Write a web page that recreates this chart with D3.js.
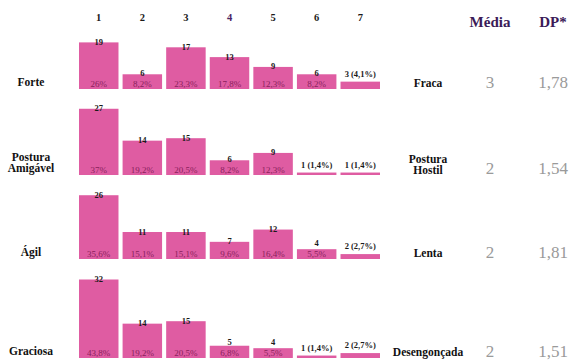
<!DOCTYPE html>
<html>
<head>
<meta charset="utf-8">
<script src="https://cdn.jsdelivr.net/npm/d3@7"></script>
<style>
  html, body { margin: 0; padding: 0; background: #fff; }
</style>
</head>
<body>
<svg id="chart" width="578" height="363"></svg>
<script>
// Semantic differential: 7-point scale, counts of answers per item (n = 73)
const scalePoints = ["1", "2", "3", "4", "5", "6", "7"];
const leftPoles = [["Forte"], ["Postura", "Amigável"], ["Ágil"], ["Graciosa"]];
const rightPoles = [["Fraca"], ["Postura", "Hostil"], ["Lenta"], ["Desengonçada"]];

const countsForte = [19, 6, 17, 13, 9, 6, 3];
const countsPostura = [27, 14, 15, 6, 9, 1, 1];
const countsAgil = [26, 11, 11, 7, 12, 4, 2];
const countsGraciosa = [32, 14, 15, 5, 4, 1, 2];

const pctForte = ["26%", "8,2%", "23,3%", "17,8%", "12,3%", "8,2%", "4,1%"];
const pctPostura = ["37%", "19,2%", "20,5%", "8,2%", "12,3%", "1,4%", "1,4%"];
const pctAgil = ["35,6%", "15,1%", "15,1%", "9,6%", "16,4%", "5,5%", "2,7%"];
const pctGraciosa = ["43,8%", "19,2%", "20,5%", "6,8%", "5,5%", "1,4%", "2,7%"];

const medias = ["3", "2", "2", "2"];
const desvios = ["1,78", "1,54", "1,81", "1,51"];

const rows = [
  { counts: countsForte, pcts: pctForte },
  { counts: countsPostura, pcts: pctPostura },
  { counts: countsAgil, pcts: pctAgil },
  { counts: countsGraciosa, pcts: pctGraciosa }
];

// Pick the first serif face that is actually installed
function pickFont(cands) {
  const ctx = document.createElement("canvas").getContext("2d");
  const probe = "Desengonçada Média 1,78 WwMmIil";
  ctx.font = "20px monospace";
  const base = ctx.measureText(probe).width;
  for (const c of cands) {
    ctx.font = `20px "${c}", monospace`;
    if (Math.abs(ctx.measureText(probe).width - base) > 0.5) return `"${c}"`;
  }
  return "serif";
}
const serif = pickFont(["Liberation Serif", "Tinos", "Times New Roman", "DejaVu Serif",
  "Noto Serif", "FreeSerif", "Nimbus Roman", "Nimbus Roman No9 L", "Times"]) + ", serif";

// Layout
const rowBase = [89, 175, 259, 358];
const leftX = 31, rightX = 428, mediaX = 490, dpX = 553;
const pink = "#df5ca2";
const pctColor = "#8a1f5c";
const headColor = "#3b1b58";

const svg = d3.select("#chart").attr("font-family", serif);

const x = d3.scaleBand().domain(scalePoints).range([79, 380]).paddingInner(0.094).paddingOuter(0);
const h = d3.scaleLinear().domain([0, 32]).range([0, 78.5]);

// Scale point headers
svg.append("g").selectAll("text").data(scalePoints).join("text")
  .attr("x", d => x(d) + x.bandwidth() / 2)
  .attr("y", 21)
  .attr("text-anchor", "middle")
  .attr("font-size", 10.5)
  .attr("font-weight", "bold")
  .attr("fill", d => d === "4" ? "#4a2466" : "#1a1a1a")
  .text(d => d);

svg.append("text").attr("x", mediaX).attr("y", 27).attr("text-anchor", "middle")
  .attr("font-size", 15).attr("font-weight", "bold").attr("fill", headColor).text("Média");
svg.append("text").attr("x", dpX).attr("y", 27).attr("text-anchor", "middle")
  .attr("font-size", 15).attr("font-weight", "bold").attr("fill", headColor).text("DP*");

rows.forEach((row, i) => {
  const base = rowBase[i];
  const g = svg.append("g");
  const items = scalePoints.map((p, j) => ({ p, v: row.counts[j], pct: row.pcts[j] }));

  g.selectAll("rect").data(items).join("rect")
    .attr("x", d => x(d.p))
    .attr("y", d => base - h(d.v))
    .attr("width", x.bandwidth())
    .attr("height", d => h(d.v))
    .attr("fill", pink);

  const big = items.filter(d => d.v > 3);
  const small = items.filter(d => d.v <= 3);

  // count sits on the bar top, lifted above the percentage on short bars
  g.selectAll("text.count").data(big).join("text")
    .attr("class", "count")
    .attr("x", d => x(d.p) + x.bandwidth() / 2)
    .attr("y", d => Math.min(base - h(d.v) + 2.5, base - 13))
    .attr("text-anchor", "middle")
    .attr("font-size", 8.5)
    .attr("font-weight", "bold")
    .attr("fill", "#1a1a1a")
    .text(d => d.v);

  g.selectAll("text.pct").data(big).join("text")
    .attr("class", "pct")
    .attr("x", d => x(d.p) + x.bandwidth() / 2)
    .attr("y", base - 2)
    .attr("text-anchor", "middle")
    .attr("font-size", 9)
    .attr("fill", pctColor)
    .text(d => d.pct);

  g.selectAll("text.both").data(small).join("text")
    .attr("class", "both")
    .attr("x", d => x(d.p) + x.bandwidth() / 2)
    .attr("y", d => base - h(d.v) - 5)
    .attr("text-anchor", "middle")
    .attr("font-size", 8.5)
    .attr("font-weight", "bold")
    .attr("fill", "#1a1a1a")
    .text(d => `${d.v} (${d.pct})`);

  // Pole labels
  const L = leftPoles[i];
  L.forEach((s, k) => {
    g.append("text").attr("x", leftX)
      .attr("y", base - 3 - (L.length - 1 - k) * 11.5)
      .attr("text-anchor", "middle").attr("font-size", 11.5)
      .attr("font-weight", "bold").attr("fill", "#111").text(s);
  });
  const R = rightPoles[i];
  R.forEach((s, k) => {
    g.append("text").attr("x", rightX)
      .attr("y", (R.length > 1 ? base - 1 : base - 2.5) - (R.length - 1 - k) * 11)
      .attr("text-anchor", "middle").attr("font-size", 11.5)
      .attr("font-weight", "bold").attr("fill", "#111").text(s);
  });

  g.append("text").attr("x", mediaX).attr("y", base - 1.5).attr("text-anchor", "middle")
    .attr("font-size", 17).attr("fill", "#9a9a9a").text(medias[i]);
  g.append("text").attr("x", dpX).attr("y", base - 1.5).attr("text-anchor", "middle")
    .attr("font-size", 17).attr("fill", "#9a9a9a").text(desvios[i]);
});
</script>
</body>
</html>
